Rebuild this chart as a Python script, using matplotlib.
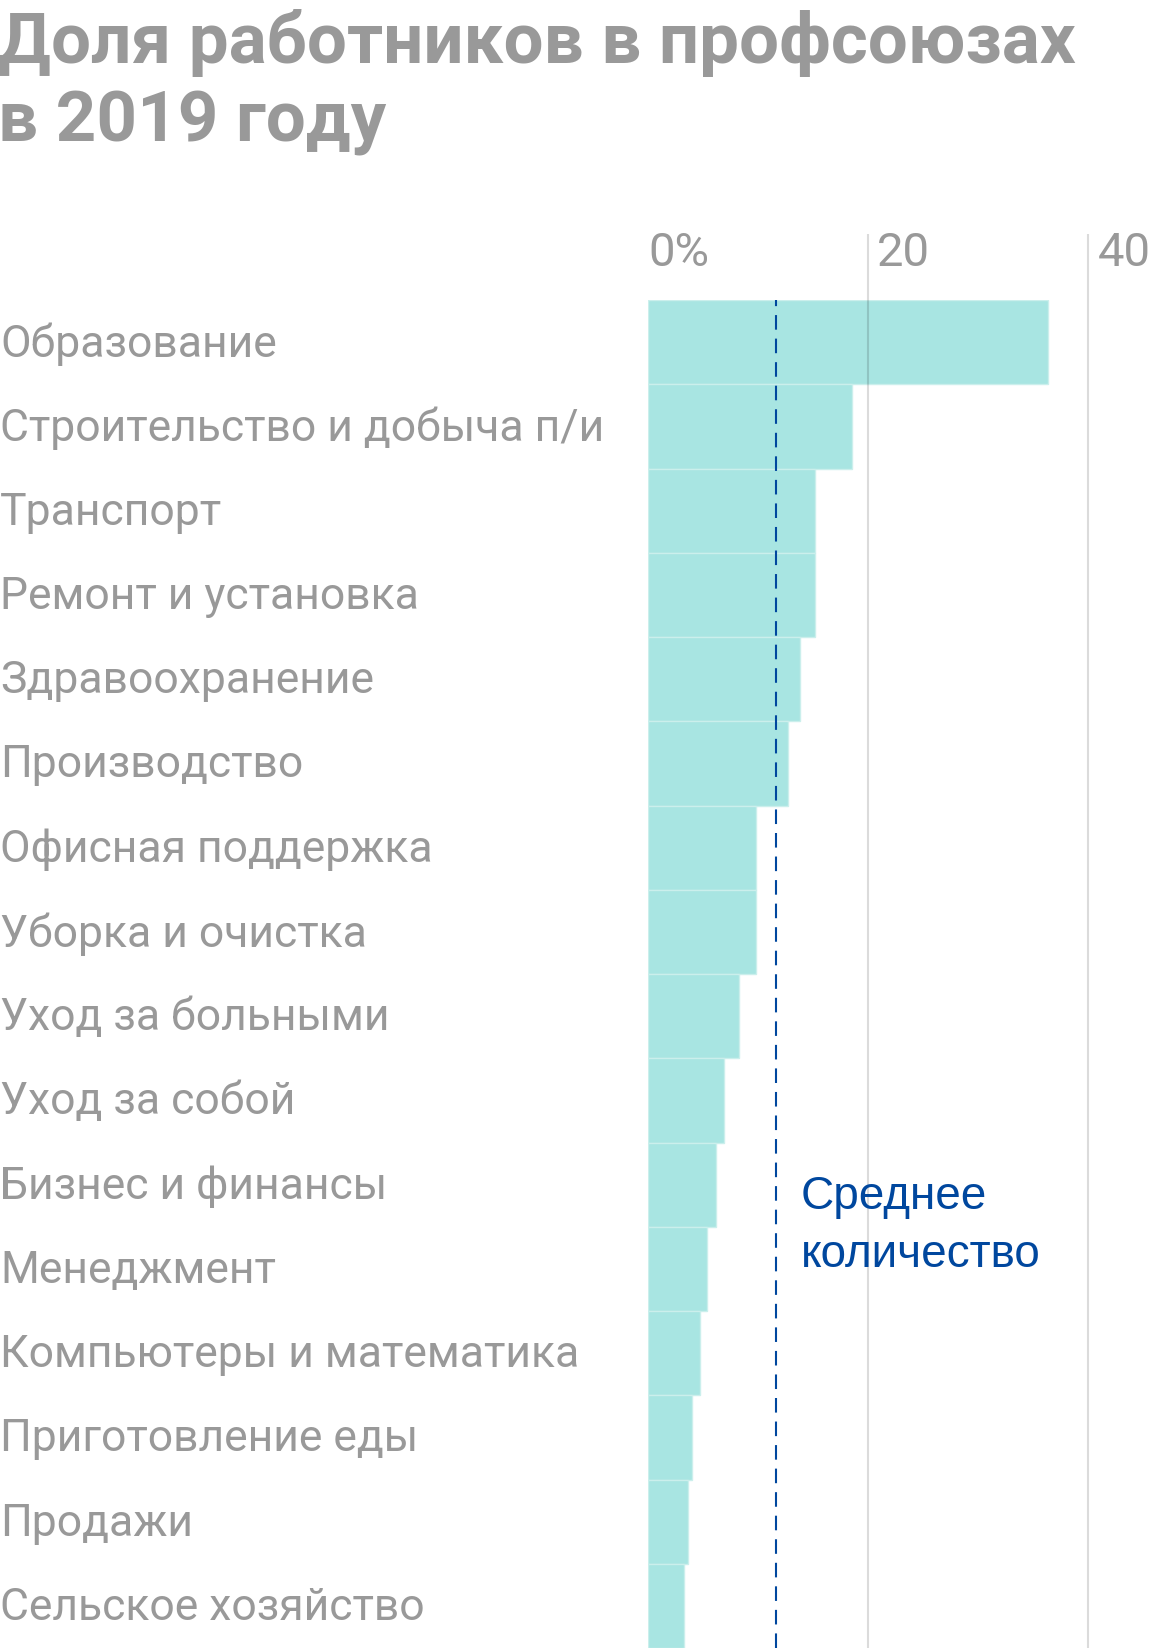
import matplotlib.pyplot as plt
from matplotlib.transforms import offset_copy

# data
categories = [
    "Образование",
    "Строительство и добыча п/и",
    "Транспорт",
    "Ремонт и установка",
    "Здравоохранение",
    "Производство",
    "Офисная поддержка",
    "Уборка и очистка",
    "Уход за больными",
    "Уход за собой",
    "Бизнес и финансы",
    "Менеджмент",
    "Компьютеры и математика",
    "Приготовление еды",
    "Продажи",
    "Сельское хозяйство",
]
shares = [36.3, 18.5, 15.2, 15.2, 13.8, 12.7, 9.8, 9.8, 8.3, 6.9, 6.15, 5.4, 4.7, 4.0, 3.6, 3.25]
mean_share = 11.6
ticks = [0, 20, 40]
tick_labels = ["0%", "20", "40"]
title_lines = ["Доля работников в профсоюзах", "в 2019 году"]
mean_label = "Среднее\nколичество"

W, H, DPI = 1160, 1648, 100
GRAY = "#999999"
BAR = "#a8e5e2"
BLUE = "#00479e"

fig = plt.figure(figsize=(W / DPI, H / DPI), dpi=DPI)
ax = fig.add_axes([648 / W, 0, 1 - 648 / W, 1 - 300 / H])

y = list(range(len(categories)))
ax.barh(y, shares, height=1.0, color=BAR, edgecolor="#cbefec", linewidth=1.0, zorder=2)
ax.set_xlim(0, 46.5)
ax.set_ylim(len(categories) - 0.5, -0.5)

ax.axvline(mean_share, color=BLUE, lw=1.5, dashes=(7, 4.3), zorder=4)

# gridlines stick out above the plot up to the tick labels
top_extra = -0.5 - (300 - 234) / 84.25
for t in ticks[1:]:
    ax.vlines(t, top_extra, len(categories) - 0.5, color="black", alpha=0.14,
              lw=1.5, zorder=3, clip_on=False)

for i, (t, lab) in enumerate(zip(ticks, tick_labels)):
    trans = offset_copy(ax.transData, fig=fig, x=0 if i == 0 else 9, y=0, units="dots")
    ax.text(t, -0.5 - (300 - 252.5) / 84.25, lab, transform=trans, ha="left", va="center",
            fontsize=34, color=GRAY, family="Roboto", clip_on=False)

for i, cat in enumerate(categories):
    fig.text(0, 1 - (302 + 84.25 * (i + 0.5)) / H, cat, ha="left", va="center",
             fontsize=32, color=GRAY, family="Roboto")

ax.text(13.9, 10.49, mean_label, ha="left", va="center", fontsize=33,
        color=BLUE, family="Liberation Sans", linespacing=1.4, zorder=5)

ax.axis("off")

fig.text(-0.002, 1 - 63 / H, title_lines[0], ha="left", va="baseline",
         fontsize=51, fontweight="bold", color=GRAY, family="Roboto")
fig.text(-0.002, 1 - 142 / H, title_lines[1], ha="left", va="baseline",
         fontsize=51, fontweight="bold", color=GRAY, family="Roboto")

fig.savefig("out.png", dpi=DPI)
